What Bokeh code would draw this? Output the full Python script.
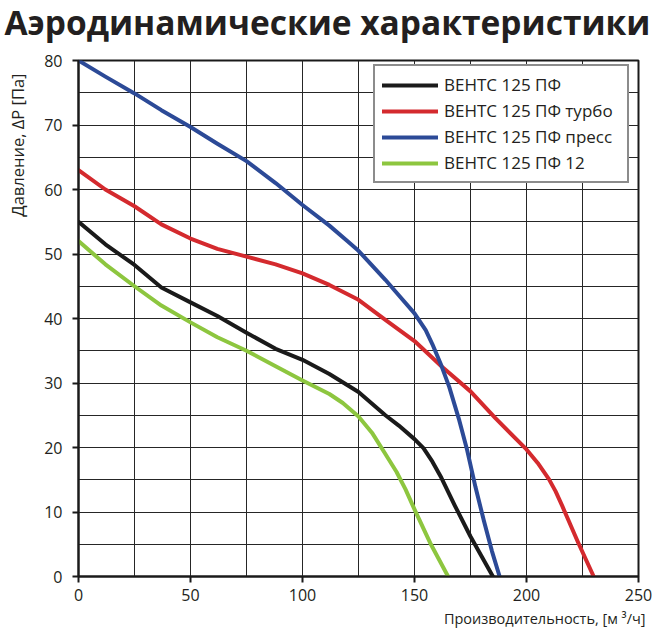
import math
from bokeh.plotting import figure
from bokeh.layouts import column, row
from bokeh.models import Range1d, SingleIntervalTicker, Legend, LegendItem, Label
from bokeh.embed import file_html
from bokeh.resources import INLINE

title_text = "Аэродинамические характеристики"
x_label = "Производительность, [м ³/ч]"
y_label = "Давление, ΔP [Па]"

names = ["ВЕНТС 125 ПФ", "ВЕНТС 125 ПФ турбо", "ВЕНТС 125 ПФ пресс", "ВЕНТС 125 ПФ 12"]

black_x = [0, 12, 25, 37, 50, 62, 75, 88, 100, 112, 125, 137, 143, 150, 154, 158, 162, 168, 175, 180, 185]
black_y = [55, 51.5, 48.3, 44.8, 42.5, 40.4, 37.8, 35.3, 33.6, 31.4, 28.6, 25.0, 23.4, 21.3, 19.9, 17.8, 15.3, 11.0, 6.2, 3.1, 0]

red_x = [0, 12, 25, 37, 50, 62, 75, 88, 100, 112, 125, 137, 150, 162, 175, 186, 200, 205, 210, 213, 216, 223, 230]
red_y = [63, 60, 57.4, 54.6, 52.4, 50.8, 49.6, 48.4, 47, 45.2, 42.9, 39.8, 36.5, 32.6, 28.7, 24.6, 19.7, 17.6, 15.1, 13.2, 10.9, 5.3, 0]

blue_x = [0, 12, 25, 37, 50, 62, 75, 88, 100, 112, 120, 125, 137, 142, 150, 155, 158, 162, 165.5, 170, 173.5, 177.2, 181, 184.6, 188]
blue_y = [80, 77.5, 74.9, 72.3, 69.7, 67.1, 64.4, 61.0, 57.6, 54.4, 52.0, 50.5, 46, 44.0, 40.8, 38.2, 36, 32.7, 29.4, 24.2, 19.6, 13.9, 8.6, 3.9, 0]

green_x = [0, 12, 25, 37, 50, 62, 75, 88, 100, 112, 118, 125, 131, 137, 142, 146, 150, 157, 165]
green_y = [52, 48.4, 45, 42, 39.4, 37.1, 35, 32.6, 30.4, 28.3, 26.9, 24.8, 22.3, 19, 16.2, 13.5, 10.4, 5.2, 0]

colors = ["#1a1a1a", "#d42a2e", "#2c4a97", "#8dc63f"]

FONT = "Open Sans"
TEXT_COLOR = "#231f20"

TOTAL_W, TOTAL_H = 652, 628
TITLE_H, XLAB_H, YLAB_W = 44, 18, 40
MAIN_H = TOTAL_H - TITLE_H - XLAB_H
MAIN_W = TOTAL_W - YLAB_W


def text_fig(w, h):
    f = figure(width=w, height=h, output_backend="svg", toolbar_location=None,
               x_axis_type=None, y_axis_type=None, min_border=0,
               x_range=Range1d(0, 1), y_range=Range1d(0, 1))
    f.outline_line_color = None
    f.grid.visible = False
    f.background_fill_color = "white"
    f.border_fill_color = "white"
    return f


# title strip
tf = text_fig(TOTAL_W, TITLE_H)
tf.add_layout(Label(x=4, y=23, x_units="screen", y_units="screen", text=title_text,
                    text_font=FONT, text_font_size="33.5px", text_font_style="bold",
                    text_color=TEXT_COLOR, text_align="left", text_baseline="alphabetic"))

# y label strip
yf = text_fig(YLAB_W, MAIN_H)
yf.add_layout(Label(x=17, y=503, x_units="screen", y_units="screen", text=y_label,
                    angle=math.pi / 2, text_font=FONT, text_font_size="16.5px",
                    text_color=TEXT_COLOR, text_align="right", text_baseline="alphabetic"))

# x label strip
xf = text_fig(TOTAL_W, XLAB_H)
xf.add_layout(Label(x=645, y=10, x_units="screen", y_units="screen", text=x_label,
                    text_font=FONT, text_font_size="14.5px", text_color=TEXT_COLOR,
                    text_align="right", text_baseline="alphabetic"))

# main chart
p = figure(width=MAIN_W, height=MAIN_H, output_backend="svg", toolbar_location=None,
           x_range=Range1d(0, 250), y_range=Range1d(0, 80),
           min_border_left=38, min_border_right=14, min_border_top=16, min_border_bottom=34)
p.background_fill_color = "white"
p.border_fill_color = "white"
p.outline_line_color = "#1a1a1a"
p.outline_line_width = 2

p.xaxis.ticker = SingleIntervalTicker(interval=50, num_minor_ticks=2)
p.yaxis.ticker = SingleIntervalTicker(interval=10, num_minor_ticks=2)

for ax in (p.xaxis[0], p.yaxis[0]):
    ax.axis_line_color = "#1a1a1a"
    ax.axis_line_width = 2
    ax.major_tick_line_color = "#1a1a1a"
    ax.major_tick_line_width = 2
    ax.major_tick_out = 6
    ax.major_tick_in = 0
    ax.minor_tick_line_color = None
    ax.major_label_text_font = FONT
    ax.major_label_text_font_size = "16px"
    ax.major_label_text_color = TEXT_COLOR
p.xaxis.major_label_standoff = 6
p.yaxis.major_label_standoff = 10

for g in (p.xgrid[0], p.ygrid[0]):
    g.grid_line_color = "#262626"
    g.grid_line_width = 1
    g.minor_grid_line_color = "#262626"
    g.minor_grid_line_width = 1

xs = [black_x, red_x, blue_x, green_x]
ys = [black_y, red_y, blue_y, green_y]
renderers = []
for x, y, c in zip(xs, ys, colors):
    r = p.line(x, y, line_color=c, line_width=4, line_join="round", line_cap="round")
    renderers.append(r)

legend = Legend(items=[LegendItem(label=n, renderers=[r]) for n, r in zip(names, renderers)],
                location=(295, 393))
legend.label_text_font = FONT
legend.label_text_font_size = "17px"
legend.label_text_color = TEXT_COLOR
legend.glyph_width = 56
legend.glyph_height = 20
legend.label_height = 20
legend.label_width = 176
legend.label_standoff = 6
legend.spacing = 3
legend.padding = 7
legend.margin = 0
legend.border_line_color = "#1a1a1a"
legend.border_line_width = 2
legend.background_fill_color = "white"
legend.background_fill_alpha = 1
p.add_layout(legend, "center")

layout = column(tf, row(yf, p, spacing=0), xf, spacing=0)

open("out.html", "w").write(file_html(layout, INLINE))
